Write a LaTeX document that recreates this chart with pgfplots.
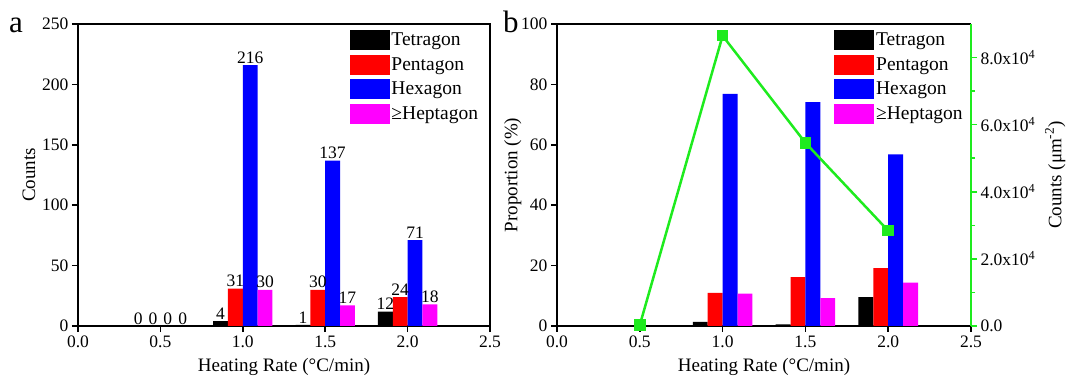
\documentclass[border=0pt]{standalone}
\usepackage{fontspec}
\setmainfont{Liberation Serif}
\usepackage{pgfplots}
\pgfplotsset{compat=1.18}
\definecolor{lgreen}{RGB}{30,235,30}
\definecolor{mymag}{RGB}{255,0,255}
\pgfplotsset{
  mystyle/.style={
    scale only axis, height=302bp,
    xmin=0, xmax=2.5, ymin=0,
    xtick={0,0.5,1,1.5,2,2.5},
    tick align=outside, xtick pos=left, ytick pos=left,
    major tick length=6bp, minor tick length=4bp,
    every tick/.style={black, line width=1.5bp},
    axis line style={line width=2bp},
    tick label style={font=\fontsize{17.5bp}{20bp}\selectfont},
    label style={font=\fontsize{19bp}{22bp}\selectfont},
    xlabel style={yshift=-4bp},
    /pgf/number format/assume math mode=true,
    xticklabel style={/pgf/number format/.cd, fixed, fixed zerofill, precision=1},
    ybar=0pt, bar width=0.09,
    legend style={draw=none, fill=none, font=\fontsize{19.5bp}{22bp}\selectfont,
      anchor=north west, row sep=4.5bp, inner sep=0pt, cells={anchor=west}},
    legend image code/.code={\fill[##1, draw=none] (0bp,-10bp) rectangle (40bp,10bp);},
    xlabel={Heating Rate (°C/min)},
  }
}
\begin{document}
\begin{tikzpicture}
\useasboundingbox (0,0) rectangle (1069bp,380bp);
% ---------- panel a
\begin{axis}[mystyle, width=412bp, at={(78bp,54bp)}, anchor=south west,
  ymax=250, ytick={0,50,100,150,200,250}, ylabel={Counts},
  nodes near coords,
  nodes near coords style={font=\fontsize{17.5bp}{20bp}\selectfont, black, inner sep=1.5bp},
  legend style={at={(0.6585,0.98)}}]
\addplot[fill=black, draw=none] coordinates {(0.5,0) (1,4) (1.5,1) (2,12)};
\addplot[fill=red, draw=none] coordinates {(0.5,0) (1,31) (1.5,30) (2,24)};
\addplot[fill=blue, draw=none] coordinates {(0.5,0) (1,216) (1.5,137) (2,71)};
\addplot[fill=mymag, draw=none] coordinates {(0.5,0) (1,30) (1.5,17) (2,18)};
\legend{Tetragon, Pentagon, Hexagon, ≥Heptagon}
\end{axis}
\node[anchor=base west, font=\fontsize{31bp}{33bp}\selectfont, inner sep=0pt] at (9bp,347bp) {a};
% ---------- panel b
\begin{axis}[mystyle, width=414bp, at={(557bp,54bp)}, anchor=south west,
  ymax=100, ytick={0,20,40,60,80,100}, ylabel={Proportion (\%)},
  ylabel style={yshift=-7bp},
  axis y line*=left,
  legend style={at={(0.669,0.98)}}]
\addplot[fill=black, draw=none] coordinates {(0.5,0) (1,1.4) (1.5,0.5) (2,9.6)};
\addplot[fill=red, draw=none] coordinates {(0.5,0) (1,11.0) (1.5,16.2) (2,19.2)};
\addplot[fill=blue, draw=none] coordinates {(0.5,0) (1,76.9) (1.5,74.1) (2,56.8)};
\addplot[fill=mymag, draw=none] coordinates {(0.5,0) (1,10.7) (1.5,9.2) (2,14.4)};
\legend{Tetragon, Pentagon, Hexagon, ≥Heptagon}
\end{axis}
\begin{axis}[scale only axis, width=414bp, height=302bp, at={(557bp,54bp)}, anchor=south west,
  xmin=0, xmax=2.5, ymin=0, ymax=90000,
  axis x line=none, axis y line*=right,
  axis line style={lgreen, line width=2bp},
  tick align=outside, ytick pos=right,
  major tick length=6bp, minor tick length=4bp,
  every tick/.style={lgreen, line width=1.5bp},
  ytick={0,20000,40000,60000,80000},
  minor ytick={10000,30000,50000,70000},
  scaled y ticks=false,
  yticklabels={0.0, 2.0x10\textsuperscript{4}, 4.0x10\textsuperscript{4}, 6.0x10\textsuperscript{4}, 8.0x10\textsuperscript{4}},
  tick label style={font=\fontsize{17.5bp}{20bp}\selectfont, black},
  label style={font=\fontsize{19bp}{22bp}\selectfont},
  ylabel={Counts (μm\textsuperscript{-2})},
  ylabel style={yshift=-3bp},
  clip=false]
\addplot[lgreen, line width=2.5bp, mark=square*, mark size=4.5bp, mark options={fill=lgreen, draw=lgreen}]
  coordinates {(0.5,300) (1,86500) (1.5,54600) (2,28400)};
\end{axis}
\node[anchor=base west, font=\fontsize{31bp}{33bp}\selectfont, inner sep=0pt] at (503bp,347bp) {b};
\end{tikzpicture}
\end{document}
